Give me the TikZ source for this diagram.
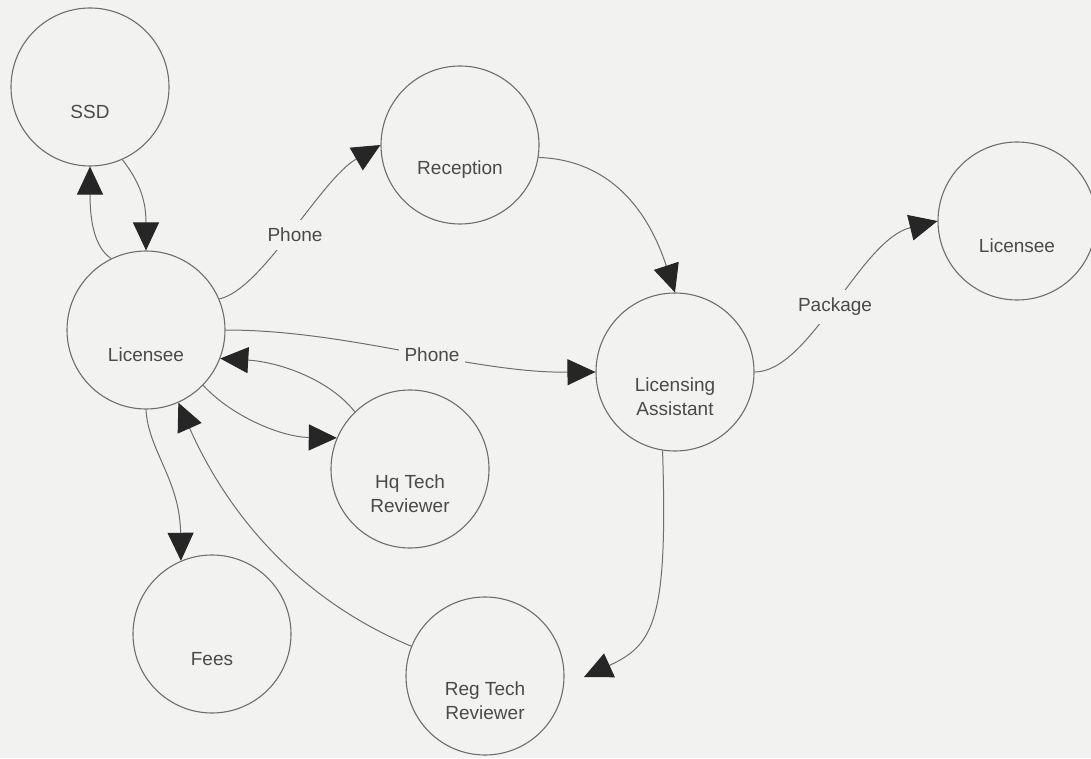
\documentclass[tikz,border=0pt]{standalone}
\usepackage{fontspec}
\setmainfont{Liberation Sans}
\usetikzlibrary{arrows.meta}
\definecolor{paper}{HTML}{F2F2F0}
\definecolor{ink}{HTML}{4A4A4A}
\definecolor{rim}{HTML}{6E6E6E}
\definecolor{tipfill}{HTML}{262626}
\begin{document}
\begin{tikzpicture}[x=1pt,y=1pt,
  bubble/.style={circle, draw=rim, line width=1.1pt, minimum size=158pt, inner sep=0pt},
  caption/.style={text=ink, font=\fontsize{19}{24}\selectfont, align=center, inner sep=0pt},
  flow/.style={draw=rim, line width=1pt, -{Triangle[length=28pt,width=26pt,color=tipfill]}},
  tag/.style={caption, fill=paper, inner xsep=6pt, inner ysep=8pt}
]
% page
\clip (0,0) rectangle (1091,758);
\fill[paper] (0,0) rectangle (1091,758);

% processes
\node[bubble] (ssd)  at (90,671)  {};
\node[bubble] (lic)  at (146,428) {};
\node[bubble] (rec)  at (460,613) {};
\node[bubble] (la)   at (675,386) {};
\node[bubble] (lic2) at (1017,537) {};
\node[bubble] (hq)   at (410,289) {};
\node[bubble] (fees) at (212,124) {};
\node[bubble] (reg)  at (485,82)  {};

% process names, set a little below each centre
\node[caption] (ssdT)  at ([yshift=-25pt]ssd.center)  {SSD};
\node[caption] (licT)  at ([yshift=-25pt]lic.center)  {Licensee};
\node[caption] (recT)  at ([yshift=-25pt]rec.center)  {Reception};
\node[caption] (laT)   at ([yshift=-25pt]la.center)   {Licensing\\Assistant};
\node[caption] (lic2T) at ([yshift=-25pt]lic2.center) {Licensee};
\node[caption] (hqT)   at ([yshift=-25pt]hq.center)   {Hq Tech\\Reviewer};
\node[caption] (feesT) at ([yshift=-25pt]fees.center) {Fees};
\node[caption] (regT)  at ([yshift=-25pt]reg.center)  {Reg Tech\\Reviewer};

% loose end of the last flow
\coordinate (regtip) at (584,81);

% flows
\draw[flow] (lic.116) .. controls (92,512) and (90,545) .. (ssd.south);
\draw[flow] (ssd.294) .. controls (138,578) and (146,560) .. (lic.north);
\draw[flow] (lic.23) .. controls (262,468) and (320,578) .. (rec.west);
\draw[flow] (rec.-9) .. controls (610,598) and (648,548) .. (la.north);
\draw[flow] (lic.east) .. controls (350,428) and (470,385) .. (la.west);
\draw[flow] (hq.134) .. controls (330,378) and (280,396) .. (lic.-21.5);
\draw[flow] (lic.-44) .. controls (230,343) and (280,321) .. (hq.157);
\draw[flow] (lic.south) .. controls (148,308) and (180,278) .. (fees.113);
\draw[flow] (reg.158) .. controls (300,158) and (228,243) .. (lic.-66);
\draw[flow] (la.261) .. controls (668,138) and (654,113) .. (regtip);
\draw[flow] (la.east) .. controls (810,386) and (860,518) .. (lic2.west);

% flow labels
\node[tag] (phoneA) at (295,523) {Phone};
\node[tag] (phoneB) at (432,403) {Phone};
\node[tag] (pkg)    at (835,451) {Package};
\end{tikzpicture}
\end{document}
